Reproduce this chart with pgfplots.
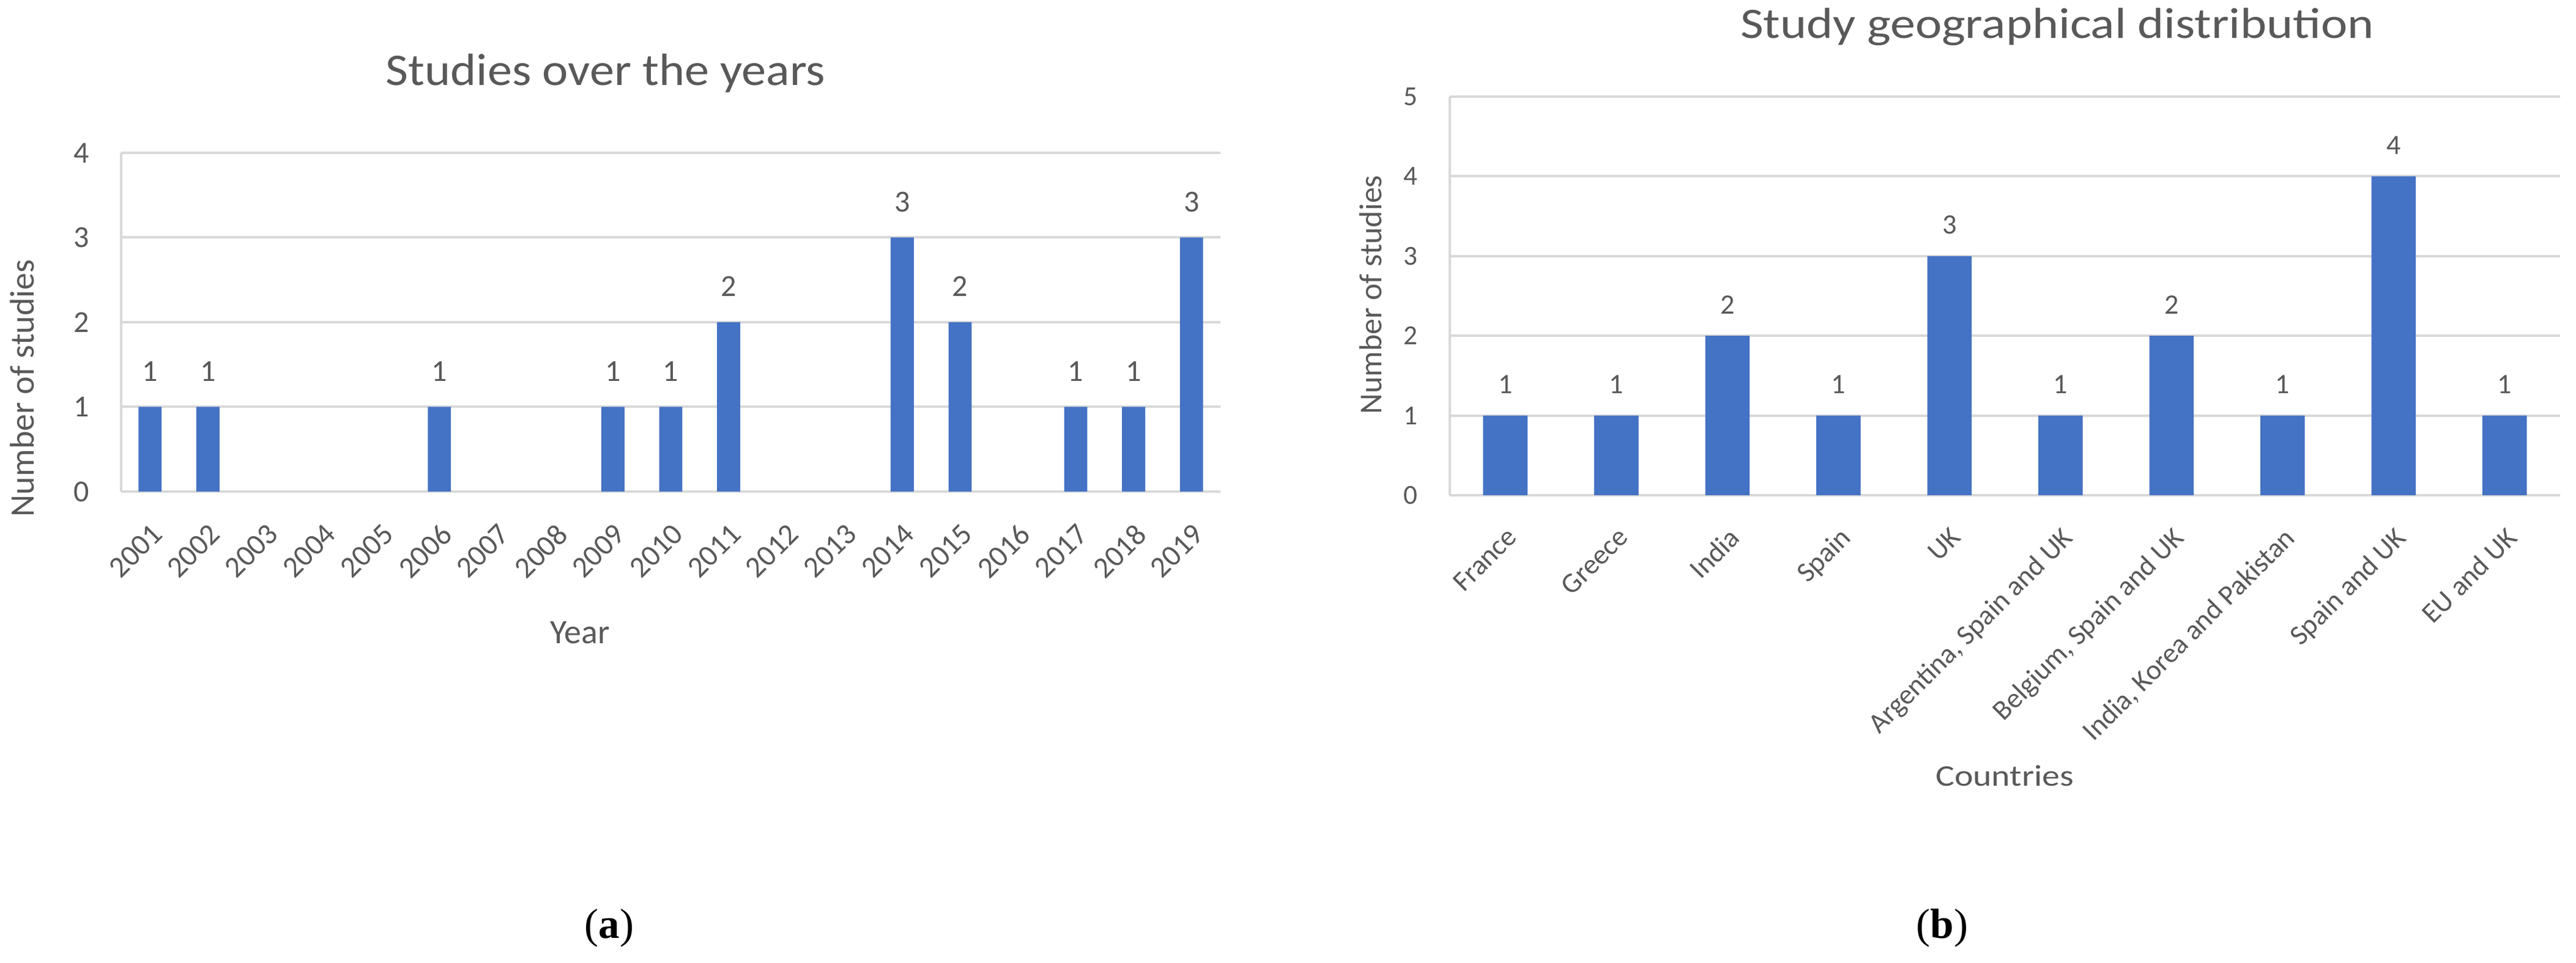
\documentclass[border=0pt]{standalone}
\usepackage{fontspec}
\setmainfont{Carlito}
\newfontfamily\capfont{Liberation Serif}
\usepackage{pgfplots}
\pgfplotsset{compat=1.18}

\definecolor{barblue}{HTML}{4472C4}
\definecolor{txtgray}{HTML}{595959}
\definecolor{gridgray}{HTML}{D9D9D9}

\pgfplotsset{
  excelbar/.style={
    scale only axis, ybar, bar width=0.4,
    ymin=0,
    ymajorgrids, grid style={gridgray, line width=0.8pt},
    axis x line*=bottom, axis y line*=left,
    axis line style={gridgray, line width=0.8pt, -},
    major tick length=0pt,
    /pgf/number format/assume math mode=true,
    tick label style={txtgray},
    nodes near coords,
  }
}

\begin{document}
\begin{tikzpicture}
\path[use as bounding box] (0,0) rectangle (842.2pt,315pt);

% (a) studies per year
\begin{axis}[excelbar,
  at={(39.6pt,154.2pt)}, anchor=south west,
  width=359.4pt, height=110.8pt,
  xmin=-0.5, xmax=18.5, ymax=4,
  xtick={0,...,18},
  xticklabels={2001,2002,2003,2004,2005,2006,2007,2008,2009,2010,2011,2012,2013,2014,2015,2016,2017,2018,2019},
  ytick={0,1,2,3,4},
  xticklabel style={font=\fontsize{9.8}{11}\selectfont, yshift=-9.8pt, rotate=45, anchor=north east, inner sep=0pt},
  yticklabel style={font=\fontsize{10}{12}\selectfont, anchor=east, inner sep=0pt, xshift=-10.2pt},
  every node near coord/.append style={font=\fontsize{10}{12}\selectfont, txtgray, anchor=south, inner sep=0pt, yshift=8.2pt},
]
\addplot[fill=barblue, draw=none] coordinates {
  (0,1) (1,1) (5,1) (8,1) (9,1) (10,2) (13,3) (14,2) (16,1) (17,1) (18,3)
};
\end{axis}
\node[anchor=base, txtgray, xscale=1.085, font=\fontsize{14.8}{17}\selectfont] at (198pt,287pt) {Studies over the years};
\node[anchor=base, txtgray, font=\fontsize{11.2}{13}\selectfont] at (189.6pt,104.4pt) {Year};
\node[anchor=base, rotate=90, txtgray, font=\fontsize{11.2}{13}\selectfont] at (11pt,188pt) {Number of studies};

% (b) geographical distribution
\begin{axis}[excelbar,
  at={(474pt,153pt)}, anchor=south west,
  width=363pt, height=130.4pt,
  xmin=-0.5, xmax=9.5, ymax=5,
  xtick={0,...,9},
  xticklabels={France, Greece, India, Spain, UK, {Argentina, Spain and UK}, {Belgium, Spain and UK}, {India, Korea and Pakistan}, Spain and UK, EU and UK},
  ytick={0,1,2,3,4,5},
  xticklabel style={font=\fontsize{9.2}{11}\selectfont, yshift=-9.8pt, rotate=45, anchor=north east, inner sep=0pt},
  yticklabel style={font=\fontsize{9}{11}\selectfont, anchor=east, inner sep=0pt, xshift=-10.4pt},
  every node near coord/.append style={font=\fontsize{9.2}{11}\selectfont, txtgray, anchor=south, inner sep=0pt, yshift=7pt},
]
\addplot[fill=barblue, draw=none] coordinates {
  (0,1) (1,1) (2,2) (3,1) (4,3) (5,1) (6,2) (7,1) (8,4) (9,1)
};
\end{axis}
\node[anchor=base, txtgray, xscale=1.155, font=\fontsize{14.2}{17}\selectfont] at (672.6pt,302.4pt) {Study geographical distribution};
\node[anchor=base, txtgray, xscale=1.18, font=\fontsize{9.8}{12}\selectfont] at (655.4pt,57.8pt) {Countries};
\node[anchor=base, rotate=90, txtgray, font=\fontsize{10.4}{12}\selectfont] at (451.6pt,218.6pt) {Number of studies};

% sub-figure captions
\node[anchor=base, font=\capfont\fontsize{13.8}{16}\selectfont] at (199.2pt,8pt) {(\textbf{a})};
\node[anchor=base, font=\capfont\fontsize{13.8}{16}\selectfont] at (635pt,8pt) {(\textbf{b})};
\end{tikzpicture}
\end{document}
